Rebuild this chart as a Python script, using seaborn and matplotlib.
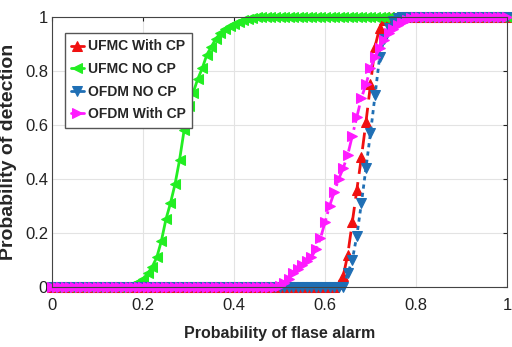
import numpy as np
import pandas as pd
import seaborn as sns
import matplotlib
matplotlib.use("Agg")
import matplotlib.pyplot as plt

# probability of false alarm grid, step 0.01
pfa = [round(i * 0.01, 2) for i in range(101)]

# values
ufmc_no_cp = [0.0] * 17 + [0.003, 0.01, 0.018, 0.03, 0.05, 0.075, 0.11, 0.17, 0.25, 0.31,
                           0.38, 0.47, 0.58, 0.67, 0.72, 0.77, 0.81, 0.86, 0.89, 0.92,
                           0.94, 0.955, 0.965, 0.975, 0.983, 0.99, 0.994, 0.997, 0.999] + [1.0] * 55
ufmc_cp = [0.0] * 63 + [0.01, 0.04, 0.12, 0.24, 0.36, 0.48, 0.61, 0.75, 0.89, 0.96, 0.99] + [1.0] * 27
ofdm_no_cp = [0.0] * 65 + [0.05, 0.1, 0.19, 0.31, 0.44, 0.57, 0.71, 0.85, 0.92, 0.96,
                           0.985, 0.997] + [1.0] * 24
ofdm_cp = [0.0] * 50 + [0.005, 0.015, 0.03, 0.05, 0.065, 0.08, 0.095, 0.11, 0.14, 0.18,
                        0.24, 0.3, 0.35, 0.4, 0.44, 0.49, 0.56, 0.63, 0.7, 0.75,
                        0.81, 0.85, 0.885, 0.915, 0.94, 0.955, 0.97, 0.98, 0.99, 0.997] + [1.0] * 21

series = [
    ("UFMC With CP", ufmc_cp, "#f01010", "^", (0, (6, 3))),
    ("UFMC NO CP", ufmc_no_cp, "#22ee22", "<", "-"),
    ("OFDM NO CP", ofdm_no_cp, "#1f6fb5", "v", (0, (1.5, 1.5))),
    ("OFDM With CP", ofdm_cp, "#ff1aff", ">", "-."),
]

sns.set_style("whitegrid")
plt.rcParams['font.family'] = ['Liberation Sans', 'DejaVu Sans']

fig = plt.figure(figsize=(5.12, 3.47), dpi=100)
ax = fig.add_axes([0.102, 0.173, 0.888, 0.778])

for name, vals, col, mk, ls in series:
    df = pd.DataFrame({"pfa": pfa, "pd": vals})
    sns.lineplot(data=df, x="pfa", y="pd", ax=ax, color=col, marker=mk, markersize=6.5,
                 markeredgecolor=col, linewidth=2, linestyle=ls, label=name, clip_on=False)

ax.set_xlim(0, 1)
ax.set_ylim(0, 1)
ax.set_xticks([0, 0.2, 0.4, 0.6, 0.8, 1])
ax.set_xticklabels(["0", "0.2", "0.4", "0.6", "0.8", "1"])
ax.set_yticks([0, 0.2, 0.4, 0.6, 0.8, 1])
ax.set_yticklabels(["0", "0.2", "0.4", "0.6", "0.8", "1"])
ax.tick_params(labelsize=12, direction="in", length=3, colors="#222222", top=True, right=True)
ax.tick_params(axis="x", pad=8)
ax.tick_params(axis="y", pad=3)
ax.grid(True, color="#e3e3e3", linewidth=0.8)
for s in ax.spines.values():
    s.set_color("#444444")
    s.set_linewidth(0.8)

ax.set_xlabel("Probability of flase alarm", fontsize=11.5, fontweight="bold", labelpad=9)
ax.set_ylabel("Probability of detection", fontsize=14, fontweight="bold")
ax.yaxis.set_label_coords(-0.077, 0.5)

leg = ax.legend(loc="upper left", bbox_to_anchor=(0.028, 0.94), fontsize=10,
                handlelength=0.9, handletextpad=0.3, labelspacing=0.62,
                borderpad=0.45, borderaxespad=0, fancybox=False, framealpha=1, edgecolor="#555555")
for t in leg.get_texts():
    t.set_fontweight("bold")
for h in leg.get_lines():
    h.set_linestyle("-")

fig.savefig("out.png", dpi=100)
